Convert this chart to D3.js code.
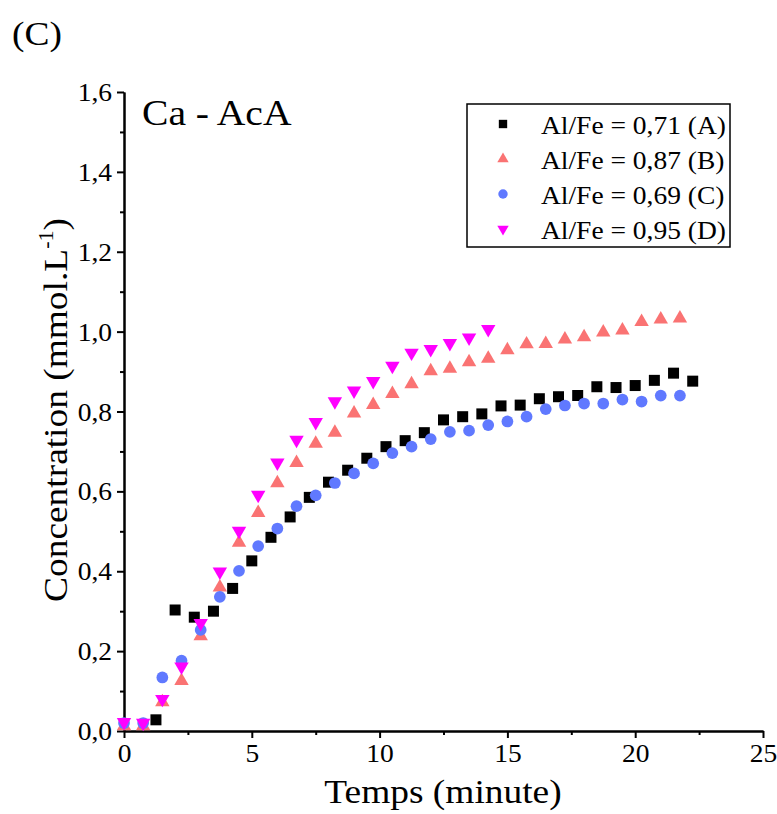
<!DOCTYPE html>
<html><head><meta charset="utf-8">
<script src="https://cdn.jsdelivr.net/npm/d3@7/dist/d3.min.js"></script>
<style>body{margin:0;background:#fff}</style>
</head><body>
<svg id="c" width="777" height="814"></svg>
<script>
// ---- data ----
const seriesNames = ["Al/Fe = 0,71 (A)", "Al/Fe = 0,87 (B)", "Al/Fe = 0,69 (C)", "Al/Fe = 0,95 (D)"];
const seriesColors = ["#000000", "#FA7373", "#6079FF", "#FF00FF"];

const timesA = [1.25,2,2.75,3.5,4.25,5,5.75,6.5,7.25,8,8.75,9.5,10.25,11,11.75,12.5,13.25,14,14.75,15.5,16.25,17,17.75,18.5,19.25,20,20.75,21.5,22.25];
const valuesA = [0.028,0.303,0.285,0.300,0.357,0.426,0.485,0.536,0.585,0.623,0.653,0.683,0.712,0.727,0.747,0.779,0.787,0.794,0.814,0.816,0.832,0.837,0.840,0.862,0.860,0.865,0.878,0.896,0.876];

const timesB = [0,0.75,1.5,2.25,3,3.75,4.5,5.25,6,6.75,7.5,8.25,9,9.75,10.5,11.25,12,12.75,13.5,14.25,15,15.75,16.5,17.25,18,18.75,19.5,20.25,21,21.75];
const valuesB = [0.015,0.015,0.075,0.128,0.240,0.362,0.474,0.549,0.623,0.674,0.722,0.750,0.798,0.819,0.847,0.871,0.904,0.910,0.926,0.935,0.956,0.971,0.972,0.983,0.989,1.001,1.006,1.027,1.033,1.036];

const timesC = [0,0.75,1.5,2.25,3,3.75,4.5,5.25,6,6.75,7.5,8.25,9,9.75,10.5,11.25,12,12.75,13.5,14.25,15,15.75,16.5,17.25,18,18.75,19.5,20.25,21,21.75];
const valuesC = [0.020,0.020,0.134,0.176,0.253,0.336,0.401,0.463,0.507,0.563,0.590,0.621,0.645,0.670,0.696,0.712,0.731,0.749,0.752,0.766,0.775,0.787,0.806,0.815,0.820,0.820,0.830,0.825,0.840,0.840];

const timesD = [0,0.75,1.5,2.25,3,3.75,4.5,5.25,6,6.75,7.5,8.25,9,9.75,10.5,11.25,12,12.75,13.5,14.25];
const valuesD = [0.022,0.020,0.080,0.161,0.270,0.399,0.501,0.591,0.672,0.729,0.773,0.825,0.852,0.876,0.914,0.947,0.956,0.971,0.985,1.006];

const xTicks = [0,5,10,15,20,25];
const xMinorTicks = [2.5,7.5,12.5,17.5,22.5];
const yTicks = [0,0.2,0.4,0.6,0.8,1.0,1.2,1.4,1.6];
const yMinorTicks = [0.1,0.3,0.5,0.7,0.9,1.1,1.3,1.5];

// ---- drawing ----
const FONT = "'Liberation Serif','Times New Roman',serif";
const SX = 1.1; // slight horizontal text stretch seen in the reference
const svg = d3.select("#c").style("font-family", FONT);

const x = d3.scaleLinear().domain([0,25]).range([124,763]);
const y = d3.scaleLinear().domain([0,1.6]).range([731,92]);
const fmt = d => d3.format(".1f")(d).replace(".", ",");

function styleAxis(g){
  g.select(".domain").attr("stroke","#000").attr("stroke-width",2);
  g.selectAll(".tick line").attr("stroke","#000").attr("stroke-width",2);
}

// minor ticks
const gxm = svg.append("g").attr("transform",`translate(0,${y(0)})`)
  .call(d3.axisBottom(x).tickValues(xMinorTicks).tickSize(4).tickSizeOuter(0).tickFormat(""));
styleAxis(gxm);
const gym = svg.append("g").attr("transform",`translate(${x(0)},0)`)
  .call(d3.axisLeft(y).tickValues(yMinorTicks).tickSize(4).tickSizeOuter(0).tickFormat(""));
styleAxis(gym);

// major axes
const gx = svg.append("g").attr("transform",`translate(0,${y(0)})`)
  .call(d3.axisBottom(x).tickValues(xTicks).tickSize(7).tickSizeOuter(0).tickFormat(d=>d));
styleAxis(gx);
gx.selectAll(".tick text").attr("y",31).attr("dy",null).attr("fill","#000")
  .attr("font-size",25).attr("font-family",FONT).attr("transform",`scale(${SX},1)`);

const gy = svg.append("g").attr("transform",`translate(${x(0)},0)`)
  .call(d3.axisLeft(y).tickValues(yTicks).tickSize(7).tickSizeOuter(0).tickFormat(fmt));
styleAxis(gy);
gy.selectAll(".tick text").attr("x",-12/SX).attr("dy","0.34em").attr("fill","#000")
  .attr("font-size",25).attr("font-family",FONT).attr("transform",`scale(${SX},1)`);

// markers
const series = [
  {t: timesA, v: valuesA, shape: "square"},
  {t: timesB, v: valuesB, shape: "tri"},
  {t: timesC, v: valuesC, shape: "circle"},
  {t: timesD, v: valuesD, shape: "itri"}
];
const plotSizes = {square: 121, tri: 90, circle: 108, itri: 90};
const legSizes = {square: 70, tri: 56, circle: 70, itri: 56};
function sym(shape, size){
  const type = shape==="square" ? d3.symbolSquare : shape==="circle" ? d3.symbolCircle : d3.symbolTriangle;
  return d3.symbol().type(type).size(size)();
}
series.forEach((s,i)=>{
  const pts = s.t.map((t,j)=>({t, v:s.v[j]}));
  svg.append("g").selectAll("path").data(pts).join("path")
    .attr("d", sym(s.shape, plotSizes[s.shape]))
    .attr("transform", d => `translate(${x(d.t)},${y(d.v)})` + (s.shape==="itri" ? " rotate(180)" : (s.shape==="tri" ? " translate(0,1)" : "")))
    .attr("fill", seriesColors[i]);
});

// legend
const lg = svg.append("g");
lg.append("rect").attr("x",467).attr("y",104).attr("width",263).attr("height",143)
  .attr("fill","#fff").attr("stroke","#000").attr("stroke-width",1.5);
seriesNames.forEach((name,i)=>{
  const by = 133.5 + i*35;
  const s = series[i];
  lg.append("path").attr("d", sym(s.shape, legSizes[s.shape]))
    .attr("transform", `translate(503,${by-9.5})` + (s.shape==="itri" ? " rotate(180)" : ""))
    .attr("fill", seriesColors[i]);
  lg.append("text").attr("transform",`translate(541,${by}) scale(${SX},1)`)
    .attr("font-size",25).attr("fill","#000").text(name);
});

// titles
svg.append("text").attr("transform",`translate(12,45) scale(${SX},1)`)
  .attr("font-size",34).attr("fill","#000").text("(C)");
svg.append("text").attr("transform",`translate(142,125) scale(${SX},1)`)
  .attr("font-size",36).attr("fill","#000").text("Ca - AcA");
svg.append("text").attr("transform",`translate(443,803) scale(${SX},1)`)
  .attr("text-anchor","middle").attr("font-size",34).attr("fill","#000").text("Temps (minute)");

const yl = svg.append("text").attr("transform",`translate(67,410) rotate(-90) scale(${SX},1)`)
  .attr("text-anchor","middle").attr("font-size",34).attr("fill","#000");
yl.append("tspan").text("Concentration (mmol.L");
yl.append("tspan").attr("font-size",20).attr("dy",-14).text("-1");
yl.append("tspan").attr("dy",14).text(")");
</script>
</body></html>
